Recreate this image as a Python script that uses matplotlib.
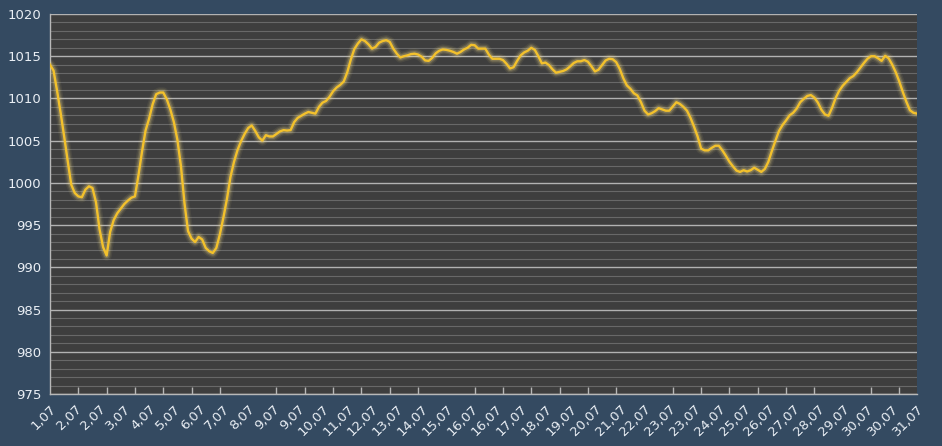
import numpy as np
import matplotlib
matplotlib.use('Agg')
import matplotlib.pyplot as plt
from matplotlib.ticker import MultipleLocator, FixedLocator, NullFormatter

###########                 Data                  ###########
#-----------------------------------------------------------#
# pressure (hPa), one reading every 3 hours, 1.07 03:00 .. 31.07 18:00
pressure = [
    1014.0, 1013.3, 1010.9, 1008.3, 1005.5, 1002.6, 999.8, 998.8, 998.4, 998.3,
    999.2, 999.6, 999.4, 997.7, 994.5, 992.4, 991.4, 994.2, 995.6, 996.4,
    996.95, 997.5, 997.9, 998.25, 998.4, 1000.9, 1003.7, 1006.2, 1007.6, 1009.3,
    1010.5, 1010.7, 1010.7, 1009.9, 1008.7, 1007.2, 1005.1, 1002.0, 997.6, 994.3,
    993.4, 993.0, 993.6, 993.3, 992.3, 991.9, 991.7, 992.3, 993.9, 995.9,
    998.1, 1000.7, 1002.5, 1003.9, 1004.95, 1005.8, 1006.5, 1006.8, 1006.15, 1005.4,
    1005.0, 1005.65, 1005.5, 1005.5, 1005.8, 1006.1, 1006.25, 1006.2, 1006.25, 1007.2,
    1007.7, 1007.95, 1008.2, 1008.4, 1008.3, 1008.2, 1009.0, 1009.5, 1009.7, 1010.2,
    1010.85, 1011.3, 1011.6, 1012.0, 1013.1, 1014.6, 1015.85, 1016.5, 1017.0, 1016.8,
    1016.4, 1015.9, 1016.1, 1016.6, 1016.8, 1016.9, 1016.7, 1015.9, 1015.3, 1014.85,
    1015.0, 1015.1, 1015.25, 1015.3, 1015.2, 1014.95, 1014.5, 1014.45, 1014.8, 1015.35,
    1015.65, 1015.8, 1015.75, 1015.65, 1015.5, 1015.3, 1015.5, 1015.8, 1016.0, 1016.35,
    1016.3, 1015.9, 1015.9, 1015.9, 1015.2, 1014.7, 1014.7, 1014.7, 1014.55, 1014.1,
    1013.55, 1013.7, 1014.45, 1015.1, 1015.45, 1015.65, 1016.0, 1015.75, 1015.0, 1014.15,
    1014.25, 1013.95, 1013.45, 1013.05, 1013.15, 1013.25, 1013.45, 1013.8, 1014.2, 1014.4,
    1014.4, 1014.55, 1014.35, 1013.8, 1013.2, 1013.4, 1013.95, 1014.5, 1014.7, 1014.65,
    1014.3, 1013.5, 1012.4, 1011.55, 1011.15, 1010.6, 1010.35, 1009.55, 1008.55, 1008.1,
    1008.25, 1008.5, 1008.85, 1008.7, 1008.55, 1008.55, 1009.05, 1009.55, 1009.35, 1009.0,
    1008.55, 1007.7, 1006.65, 1005.5, 1004.05, 1003.85, 1003.85, 1004.15, 1004.4, 1004.4,
    1003.85, 1003.2, 1002.5, 1001.95, 1001.45, 1001.3, 1001.5, 1001.35, 1001.5, 1001.8,
    1001.55, 1001.3, 1001.65, 1002.5, 1003.8, 1005.0, 1006.15, 1006.85, 1007.4, 1008.0,
    1008.3, 1008.8, 1009.55, 1009.95, 1010.3, 1010.4, 1010.1, 1009.5, 1008.65, 1008.1,
    1007.95, 1008.9, 1010.05, 1010.9, 1011.5, 1011.95, 1012.4, 1012.65, 1013.1, 1013.65,
    1014.2, 1014.7, 1015.0, 1015.0, 1014.75, 1014.45, 1015.05, 1014.75, 1014.0, 1013.1,
    1012.0, 1010.75, 1009.6, 1008.6, 1008.3, 1008.2,
]
hours = np.arange(len(pressure)) * 3

# one label every 7 readings (21 h)
date_labels = [
    '1,07', '2,07', '2,07', '3,07', '4,07', '5,07', '6,07', '7,07', '8,07',
    '9,07', '9,07', '10,07', '11,07', '12,07', '13,07', '14,07', '15,07',
    '16,07', '16,07', '17,07', '18,07', '19,07', '20,07', '21,07', '22,07',
    '23,07', '23,07', '24,07', '25,07', '26,07', '27,07', '28,07', '29,07',
    '30,07', '30,07', '31,07',
]

###########                Styling                ###########
#-----------------------------------------------------------#
bg_color = '#344a61'
plot_color = '#3e3e3e'
text_color = '#e9eef4'
line_color = '#f3c12c'

fig = plt.figure(figsize=(9.42, 4.46), dpi=100, facecolor=bg_color)
ax = fig.add_axes([50 / 942, 52 / 446, 867 / 942, 380 / 446])
ax.set_facecolor(plot_color)

# soft glow behind the line
for lw, a in [(7.5, 0.07), (5.5, 0.12), (3.8, 0.22)]:
    ax.plot(hours, pressure, color='#f5dc85', linewidth=lw, alpha=a,
            solid_joinstyle='round', solid_capstyle='round', zorder=3)
ax.plot(hours, pressure, color=line_color, linewidth=1.7,
        solid_joinstyle='round', zorder=4)

ax.set_xlim(0, hours[-1])
ax.set_ylim(975, 1020)

# y grid: bright every 5, dim every 1
ax.yaxis.set_major_locator(MultipleLocator(5))
ax.yaxis.set_minor_locator(MultipleLocator(1))
ax.grid(axis='y', which='major', color='#b2b2b2', linewidth=1.0, zorder=1)
ax.grid(axis='y', which='minor', color='#686868', linewidth=0.8, zorder=1)
ax.set_axisbelow(True)

# x: labels every 21 h, tick marks every 24 h
label_pos = hours[::7]
ax.xaxis.set_major_locator(FixedLocator(label_pos))
ax.set_xticklabels(date_labels[:len(label_pos)], rotation=45, ha='right',
                   va='top', rotation_mode='anchor')
ax.xaxis.set_minor_locator(MultipleLocator(24))
ax.xaxis.set_minor_formatter(NullFormatter())

ax.tick_params(axis='x', which='major', length=0, pad=6,
               labelsize=9.5, labelcolor=text_color)
ax.tick_params(axis='x', which='minor', length=5, direction='in',
               color='#b8b8b8', width=1)
ax.tick_params(axis='y', which='both', length=0, pad=6,
               labelsize=9.5, labelcolor=text_color)

for side in ['top', 'right']:
    ax.spines[side].set_visible(False)
for side in ['left', 'bottom']:
    ax.spines[side].set_color('#b8b8b8')
    ax.spines[side].set_linewidth(1)

fig.savefig('out.png', dpi=100, facecolor=bg_color)
